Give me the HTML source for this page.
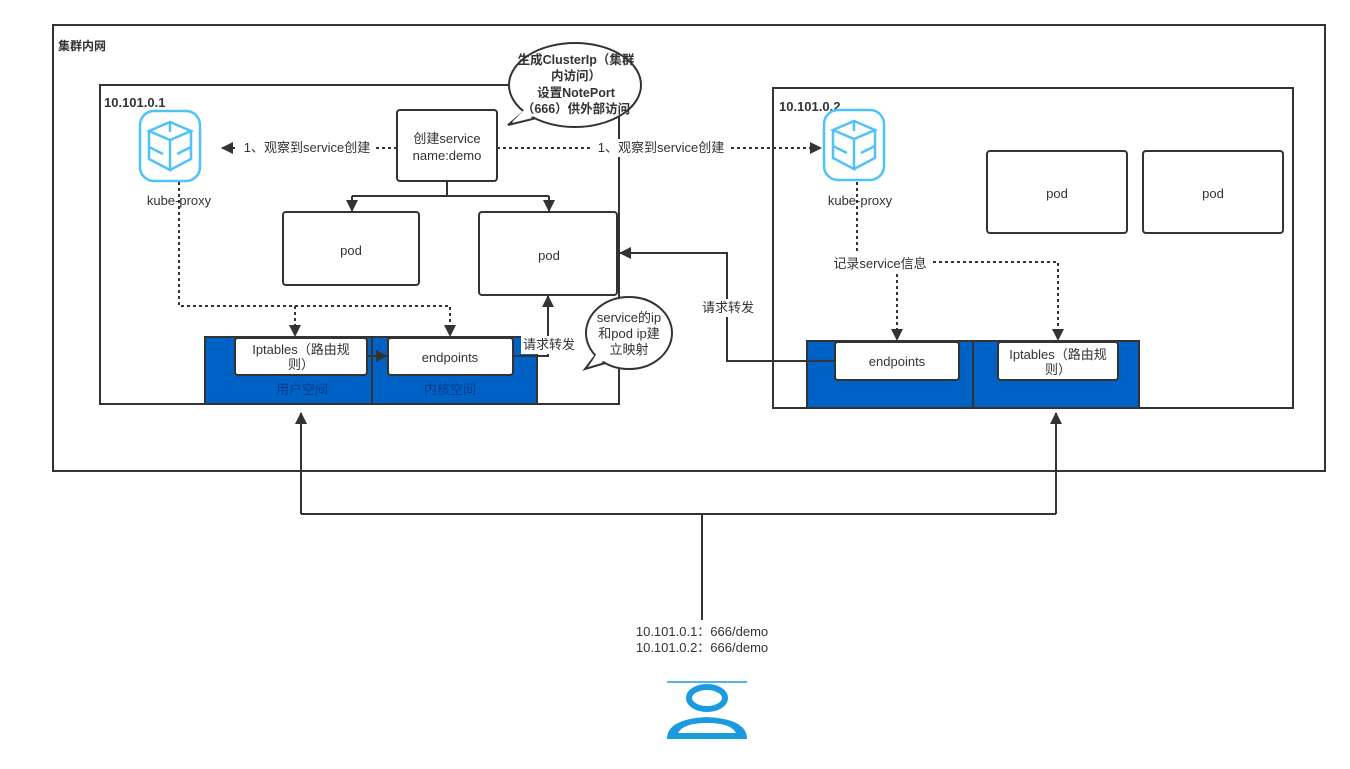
<!DOCTYPE html>
<html><head><meta charset="utf-8"><style>
body{margin:0;background:#fff}
svg text{font-family:"Liberation Sans","Noto Sans CJK SC",sans-serif;fill:#333;font-size:13px}
</style></head><body>
<svg width="1350" height="764" viewBox="0 0 1350 764" xmlns="http://www.w3.org/2000/svg">
<defs>
<marker id="a" markerWidth="12" markerHeight="12" refX="11" refY="6" orient="auto" markerUnits="userSpaceOnUse"><path d="M0,0 L12,6 L0,12 Z" fill="#333"/></marker>
</defs>
<g fill="none" stroke="#333" stroke-width="2">
<rect x="53" y="25" width="1272" height="446"/>
<rect x="100" y="85" width="519" height="319"/>
<rect x="773" y="88" width="520" height="320"/>
</g>
<text x="58" y="50" font-weight="bold" style="font-size:12px">集群内网</text>
<text x="104" y="107" font-weight="bold">10.101.0.1</text>
<text x="779" y="111" font-weight="bold">10.101.0.2</text>

<g fill="none" stroke="#4fc3f7" stroke-width="2.5">
<rect x="140" y="111" width="60" height="70" rx="14"/>
<path d="M149,131 L170,122 L191,131 L170,140 Z M149,131 V159 L170,170 V140 M191,131 V159 L170,170 M149,147 L163,154 M191,147 L177,154 M170,122 V132"/>
<rect x="824" y="110" width="60" height="70" rx="14"/>
<path d="M833,130 L854,121 L875,130 L854,139 Z M833,130 V158 L854,169 V139 M875,130 V158 L854,169 M833,146 L847,153 M875,146 L861,153 M854,121 V131"/>
</g>
<text x="179" y="205" text-anchor="middle">kube-proxy</text>
<text x="860" y="205" text-anchor="middle">kube-proxy</text>

<rect x="397" y="110" width="100" height="71" rx="3" fill="#fff" stroke="#333" stroke-width="2"/>
<text x="447" y="143" text-anchor="middle">创建service</text>
<text x="447" y="160" text-anchor="middle">name:demo</text>

<g stroke="#333" stroke-width="2" fill="none">
<path d="M397,148 L222,148" stroke-dasharray="3,3" marker-end="url(#a)"/>
<path d="M497,148 L821,148" stroke-dasharray="3,3" marker-end="url(#a)"/>
<path d="M447,181 V196 M352,196 H549 M352,196 V211" marker-end="url(#a)"/>
<path d="M549,196 V211" marker-end="url(#a)"/>
<path d="M179,182 V306 H450 V336" stroke-dasharray="3,3" marker-end="url(#a)"/>
<path d="M295,306 V336" stroke-dasharray="3,3" marker-end="url(#a)"/>
<path d="M857,182 V262 H1058 V340" stroke-dasharray="3,3" marker-end="url(#a)"/>
<path d="M897,262 V340" stroke-dasharray="3,3" marker-end="url(#a)"/>
</g>
<rect x="238" y="139" width="136" height="18" fill="#fff"/>
<text x="307" y="152" text-anchor="middle">1、观察到service创建</text>
<rect x="592" y="139" width="136" height="18" fill="#fff"/>
<text x="661" y="152" text-anchor="middle">1、观察到service创建</text>

<g fill="#fff" stroke="#333" stroke-width="2">
<rect x="283" y="212" width="136" height="73" rx="3"/>
<rect x="479" y="212" width="138" height="83" rx="3"/>
<rect x="987" y="151" width="140" height="82" rx="3"/>
<rect x="1143" y="151" width="140" height="82" rx="3"/>
</g>
<text x="351" y="255" text-anchor="middle">pod</text>
<text x="549" y="260" text-anchor="middle">pod</text>
<text x="1057" y="198" text-anchor="middle">pod</text>
<text x="1213" y="198" text-anchor="middle">pod</text>

<g fill="#0062c4" stroke="#333" stroke-width="2">
<rect x="205" y="337" width="167" height="67"/>
<rect x="372" y="337" width="165" height="67"/>
<rect x="807" y="341" width="166" height="67"/>
<rect x="973" y="341" width="166" height="67"/>
</g>
<g fill="#fff" stroke="#333" stroke-width="2">
<rect x="235" y="338" width="132" height="37" rx="3"/>
<rect x="388" y="338" width="125" height="37" rx="3"/>
<rect x="835" y="342" width="124" height="38" rx="3"/>
<rect x="998" y="342" width="120" height="38" rx="3"/>
</g>
<text x="301" y="354" text-anchor="middle">Iptables（路由规</text>
<text x="301" y="369" text-anchor="middle">则）</text>
<text x="450" y="362" text-anchor="middle">endpoints</text>
<text x="897" y="366" text-anchor="middle">endpoints</text>
<text x="1058" y="359" text-anchor="middle">Iptables（路由规</text>
<text x="1058" y="374" text-anchor="middle">则）</text>
<text x="302" y="394" text-anchor="middle" style="fill:#0a3a8a">用户空间</text>
<text x="450" y="394" text-anchor="middle" style="fill:#0a3a8a">内核空间</text>

<g stroke="#333" stroke-width="2" fill="none">
<path d="M367,356 H387" marker-end="url(#a)"/>
<path d="M513,356 H548 V296" marker-end="url(#a)"/>
<path d="M835,361 H727 V253 H620" marker-end="url(#a)"/>
<path d="M702,620 V514 M301,514 H1056 M301,514 V413" marker-end="url(#a)"/>
<path d="M1056,514 V413" marker-end="url(#a)"/>
</g>
<rect x="521" y="336" width="56" height="18" fill="#fff"/>
<text x="549" y="349" text-anchor="middle">请求转发</text>
<rect x="699" y="299" width="58" height="18" fill="#fff"/>
<text x="728" y="312" text-anchor="middle">请求转发</text>
<rect x="828" y="254" width="104" height="18" fill="#fff"/>
<text x="880" y="268" text-anchor="middle">记录service信息</text>

<g fill="#fff" stroke="#333" stroke-width="2">
<path d="M528,108 L508,125 L545,116 Z"/>
<ellipse cx="575" cy="85" rx="66" ry="42"/>
</g>
<path d="M529,105 L512,122 L546,113 Z" fill="#fff"/>
<text x="576" y="64" text-anchor="middle" font-weight="bold" style="font-size:12.5px">生成ClusterIp（集群</text>
<text x="576" y="80" text-anchor="middle" font-weight="bold" style="font-size:12.5px">内访问）</text>
<text x="576" y="97" text-anchor="middle" font-weight="bold" style="font-size:12.5px">设置NotePort</text>
<text x="576" y="113" text-anchor="middle" font-weight="bold" style="font-size:12.5px">（666）供外部访问</text>
<g fill="#fff" stroke="#333" stroke-width="2">
<path d="M598,352 L585,369 L612,361 Z"/>
<ellipse cx="629" cy="333" rx="43" ry="36"/>
</g>
<path d="M599,350 L589,366 L613,358 Z" fill="#fff"/>
<text x="629" y="322" text-anchor="middle">service的ip</text>
<text x="629" y="338" text-anchor="middle">和pod ip建</text>
<text x="629" y="354" text-anchor="middle">立映射</text>

<text x="702" y="636" text-anchor="middle">10.101.0.1：666/demo</text>
<text x="702" y="652" text-anchor="middle">10.101.0.2：666/demo</text>

<line x1="667" y1="682" x2="747" y2="682" stroke="#1a9be0" stroke-width="1.5"/>
<ellipse cx="707" cy="698" rx="18" ry="11" fill="none" stroke="#1a9be0" stroke-width="6"/>
<path d="M667,739 Q667,719 707,717 Q747,719 747,739 Z M678,733 Q683,723 707,723 Q731,723 736,733 Z" fill="#1a9be0" fill-rule="evenodd"/>
</svg>
</body></html>
